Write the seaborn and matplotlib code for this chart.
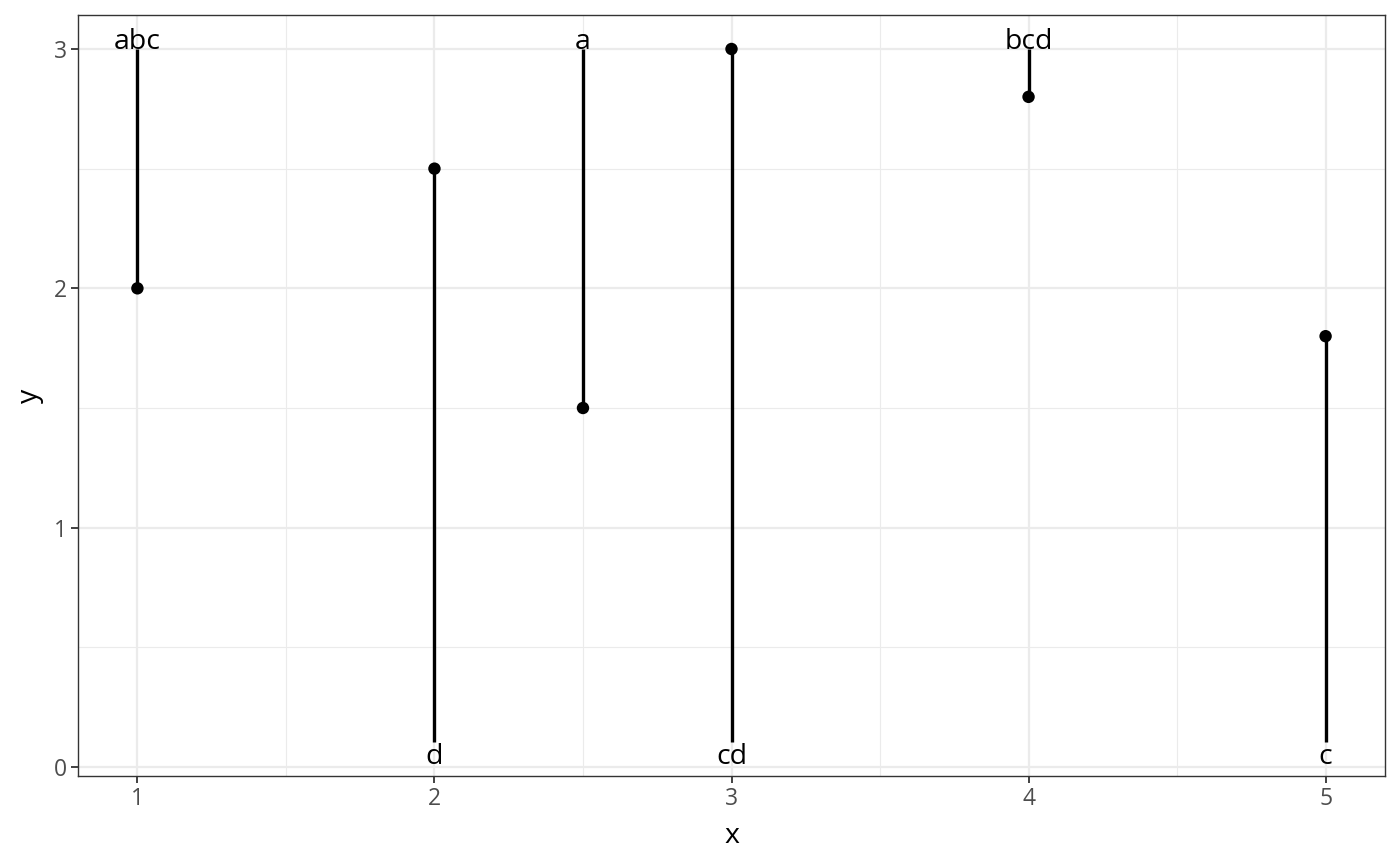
import matplotlib
matplotlib.use("Agg")
import matplotlib.pyplot as plt
import seaborn as sns
import pandas as pd
from matplotlib.ticker import MultipleLocator

x_vals = [1, 2, 2.5, 3, 4, 5]
y_vals = [2, 2.5, 1.5, 3, 2.8, 1.8]
labels = ["abc", "d", "a", "cd", "bcd", "c"]
label_y = [3, 0, 3, 0, 3, 0]
seg_end = [3, 0.105, 3, 0.105, 3, 0.105]

df = pd.DataFrame({"x": x_vals, "y": y_vals, "label": labels,
                   "label_y": label_y, "seg_end": seg_end})

sns.set_theme(style="white")
plt.rcParams["font.family"] = ["Open Sans", "DejaVu Sans"]

fig = plt.figure(figsize=(14, 8.66), dpi=100)
ax = fig.add_axes([78/1400, 1 - 776/866, (1385-78)/1400, (776-15)/866])

ax.set_xlim(0.80, 5.20)
ax.set_ylim(-0.0376, 3.142)

ax.xaxis.set_major_locator(MultipleLocator(1))
ax.xaxis.set_minor_locator(MultipleLocator(0.5))
ax.yaxis.set_major_locator(MultipleLocator(1))
ax.yaxis.set_minor_locator(MultipleLocator(0.5))
ax.grid(which="major", color="#EBEBEB", linewidth=1.6)
ax.grid(which="minor", color="#EBEBEB", linewidth=0.8)
ax.set_axisbelow(True)

ax.vlines(df["x"], df["y"], df["seg_end"], color="black", linewidth=2.4, zorder=3)
sns.scatterplot(data=df, x="x", y="y", ax=ax, color="black", s=80,
                edgecolor="none", zorder=4)

for xi, yi, lab in zip(df["x"], df["label_y"], df["label"]):
    off = 0 if yi > 0 else 2.2
    ax.annotate(lab, (xi, yi), xytext=(0, off), textcoords="offset points",
                ha="center", va="baseline", fontsize=20.5, color="black", zorder=5)

for sp in ax.spines.values():
    sp.set_color("#333333")
    sp.set_linewidth(1.0)
    sp.set_visible(True)

ax.tick_params(axis="both", which="major", length=5, width=1.3, color="#333333",
               labelsize=16.5, labelcolor="#4D4D4D", pad=3, bottom=True, left=True)
ax.tick_params(which="minor", length=0)
ax.set_xticks([1, 2, 3, 4, 5])
ax.set_yticks([0, 1, 2, 3])
ax.set_xlabel("x", fontsize=20.5, color="black", labelpad=8)
ax.set_ylabel("y", fontsize=20.5, color="black", labelpad=7)

fig.savefig("out.png", dpi=100)
